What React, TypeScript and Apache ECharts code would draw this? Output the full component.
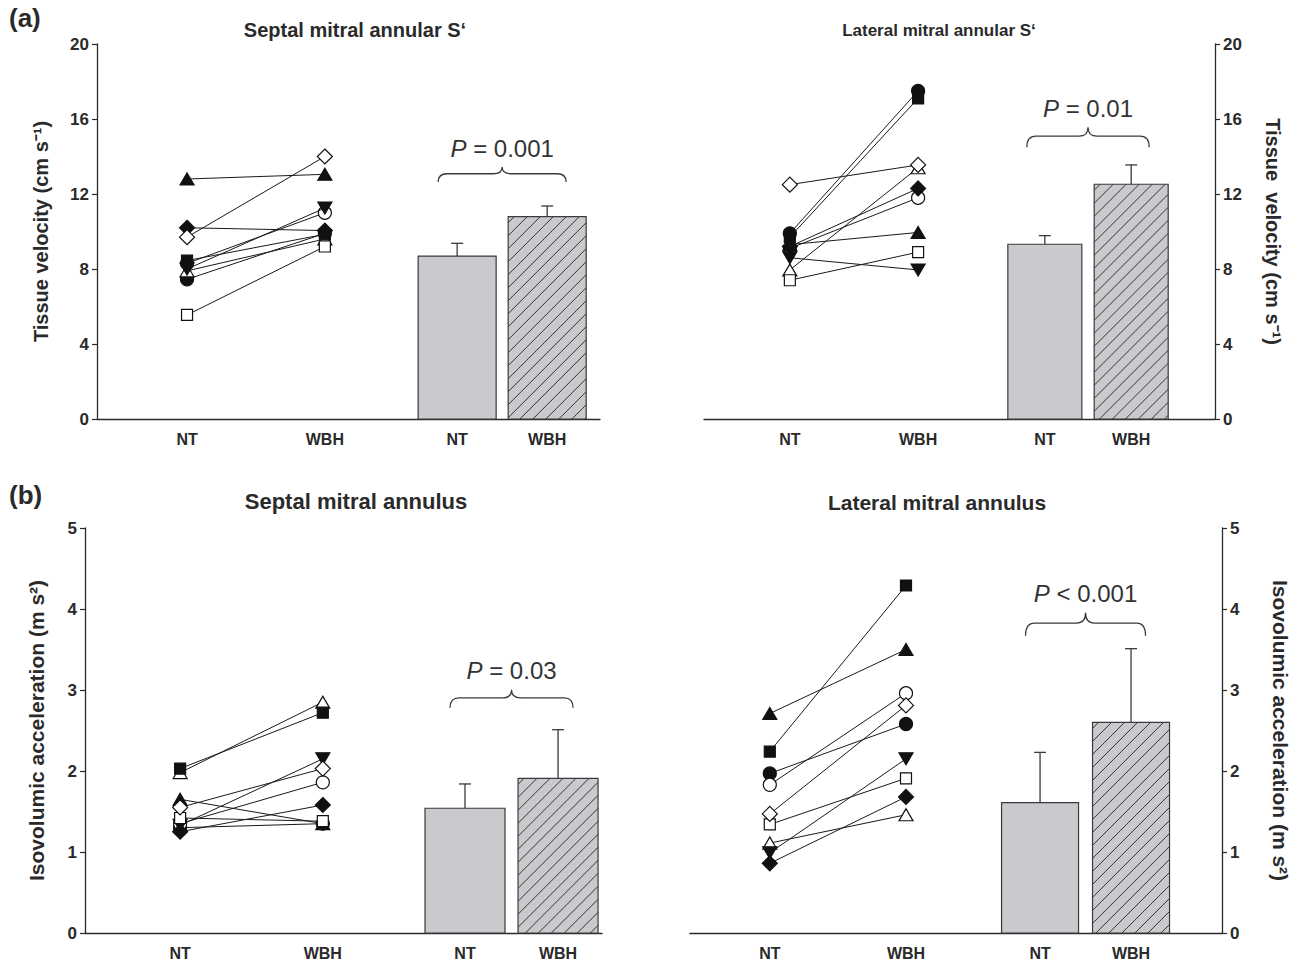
import React, { useEffect, useRef } from "react";
import * as echarts from "echarts";

// ---------- DATA ----------
const groupLabels = ["NT", "WBH", "NT", "WBH"];

// subjects (marker key per subject)
const subjects = ["S1", "S2", "S3", "S4", "S5", "S6", "S7", "S8", "S9"];

// (a) Septal mitral annular S' (cm/s)
const septalS_NT = [7.45, 8.3, 12.8, 7.9, 8.0, 8.45, 5.55, 10.2, 9.7];
const septalS_WBH = [9.9, 11.0, 13.05, 9.6, 11.25, 9.85, 9.2, 10.05, 14.0];
const septalS_mean = [8.69, 10.79];
const septalS_se = [0.68, 0.57];

// (a) Lateral mitral annular S' (cm/s)
const lateralS_NT = [9.9, 9.1, 9.3, 7.95, 8.6, 9.7, 7.4, 9.2, 12.5];
const lateralS_WBH = [17.5, 11.8, 9.95, 13.4, 7.95, 17.1, 8.9, 12.3, 13.55];
const lateralS_mean = [9.32, 12.52];
const lateralS_se = [0.46, 1.03];

// (b) Septal mitral annulus IVA (m/s2)
const septalIVA_NT = [1.3, 1.35, 1.65, 1.98, 1.33, 2.03, 1.42, 1.25, 1.55];
const septalIVA_WBH = [1.35, 1.86, 1.35, 2.85, 2.15, 2.72, 1.38, 1.58, 2.03];
const septalIVA_mean = [1.54, 1.91];
const septalIVA_se = [0.3, 0.6];

// (b) Lateral mitral annulus IVA (m/s2)
const lateralIVA_NT = [1.97, 1.83, 2.71, 1.11, 0.99, 2.24, 1.34, 0.86, 1.47];
const lateralIVA_WBH = [2.58, 2.96, 3.5, 1.46, 2.15, 4.29, 1.91, 1.68, 2.81];
const lateralIVA_mean = [1.61, 2.6];
const lateralIVA_se = [0.62, 0.91];

const pTexts = ["= 0.001", "= 0.01", "= 0.03", "< 0.001"];

const yTicksA = [0, 4, 8, 12, 16, 20];
const yTicksB = [0, 1, 2, 3, 4, 5];

// ---------- STYLE ----------
const FONT = "'Liberation Sans', Arial, Helvetica, sans-serif";
const INK = "#2a2a2a";
const BAR_FILL = "#c8cacd";

const markerStyles: { symbol: string; filled: boolean; rotate?: number; size: number | number[] }[] = [
  { symbol: "circle", filled: true, size: 13 },
  { symbol: "circle", filled: false, size: 13 },
  { symbol: "triangle", filled: true, size: [14, 12] },
  { symbol: "triangle", filled: false, size: [14, 12] },
  { symbol: "triangle", filled: true, rotate: 180, size: [14, 12] },
  { symbol: "rect", filled: true, size: 11 },
  { symbol: "rect", filled: false, size: 11 },
  { symbol: "diamond", filled: true, size: 15 },
  { symbol: "diamond", filled: false, size: 15 },
];

const panels = [
  {
    grid: { left: 97, top: 44, width: 503, height: 375 },
    side: "left",
    yMax: 20, yInterval: 4,
    xPos: [0.179, 0.453, 0.716, 0.895],
    barWidth: 78, braceInset: 20, braceY: 12.64, braceH: 15,
    nt: septalS_NT, wbh: septalS_WBH, mean: septalS_mean, se: septalS_se, p: pTexts[0],
    yName: "Tissue velocity (cm s\u207B\u00B9)", nameGap: 46, nameSize: 20,
  },
  {
    grid: { left: 704, top: 44, width: 511, height: 375 },
    side: "right",
    yMax: 20, yInterval: 4,
    xPos: [0.168, 0.419, 0.667, 0.836],
    barWidth: 74, braceInset: 19, braceY: 14.5, braceH: 20,
    nt: lateralS_NT, wbh: lateralS_WBH, mean: lateralS_mean, se: lateralS_se, p: pTexts[1],
    yName: "Tissue  velocity (cm s\u207B\u00B9)", nameGap: 48, nameSize: 20,
  },
  {
    grid: { left: 85, top: 528, width: 517, height: 405 },
    side: "left",
    yMax: 5, yInterval: 1,
    xPos: [0.184, 0.46, 0.735, 0.915],
    barWidth: 80, braceInset: 25, braceY: 2.78, braceH: 18,
    nt: septalIVA_NT, wbh: septalIVA_WBH, mean: septalIVA_mean, se: septalIVA_se, p: pTexts[2],
    yName: "Isovolumic acceleration (m s\u00B2)", nameGap: 38, nameSize: 21,
  },
  {
    grid: { left: 690, top: 528, width: 532, height: 405 },
    side: "right",
    yMax: 5, yInterval: 1,
    xPos: [0.15, 0.406, 0.658, 0.829],
    barWidth: 77, braceInset: 24, braceY: 3.67, braceH: 23,
    nt: lateralIVA_NT, wbh: lateralIVA_WBH, mean: lateralIVA_mean, se: lateralIVA_se, p: pTexts[3],
    yName: "Isovolumic acceleration (m s\u00B2)", nameGap: 48, nameSize: 21,
  },
];

function buildOption() {
  const grids: any[] = [];
  const xAxes: any[] = [];
  const yAxes: any[] = [];
  const series: any[] = [];

  panels.forEach((pn, i) => {
    grids.push({ ...pn.grid, containLabel: false });
    const ticks = pn.yMax === 20 ? yTicksA : yTicksB;
    xAxes.push({
      gridIndex: i,
      type: "value",
      min: 0,
      max: 1,
      axisLine: { show: true, onZero: false, lineStyle: { color: INK, width: 1.3 } },
      axisTick: { show: false },
      splitLine: { show: false },
      axisLabel: {
        customValues: pn.xPos,
        formatter: (v: number) => {
          const k = pn.xPos.findIndex((p) => Math.abs(p - v) < 1e-6);
          return k >= 0 ? groupLabels[k] : "";
        },
        fontFamily: FONT,
        fontWeight: "bold",
        fontSize: 16,
        color: INK,
        margin: 12,
      },
    });
    yAxes.push({
      gridIndex: i,
      type: "value",
      position: pn.side,
      min: 0,
      max: pn.yMax,
      interval: pn.yInterval,
      axisLine: { show: true, onZero: false, lineStyle: { color: INK, width: 1.3 } },
      axisTick: { show: true, inside: false, length: 5, lineStyle: { color: INK, width: 1.2 } },
      splitLine: { show: false },
      axisLabel: {
        fontFamily: FONT,
        fontWeight: "bold",
        fontSize: 17,
        color: INK,
        margin: 8,
        formatter: (v: number) => (ticks.includes(v) ? String(v) : ""),
      },
      name: pn.yName,
      nameLocation: "middle",
      nameGap: pn.nameGap,
      nameRotate: pn.side === "left" ? 90 : -90,
      nameTextStyle: { fontFamily: FONT, fontWeight: "bold", fontSize: pn.nameSize, color: INK },
    });

    // paired subject lines
    subjects.forEach((s, k) => {
      const m = markerStyles[k];
      series.push({
        type: "line",
        name: s + "-" + i,
        xAxisIndex: i,
        yAxisIndex: i,
        data: [
          [pn.xPos[0], pn.nt[k]],
          [pn.xPos[1], pn.wbh[k]],
        ],
        symbol: m.symbol,
        symbolSize: m.size,
        symbolRotate: m.rotate || 0,
        showSymbol: true,
        lineStyle: { color: "#1a1a1a", width: 1 },
        itemStyle: { color: m.filled ? "#111" : "#fff", borderColor: "#111", borderWidth: 1.2 },
        silent: true,
        z: 3 + k * 0.01,
      });
    });

    // bars with error bars
    series.push({
      type: "custom",
      xAxisIndex: i,
      yAxisIndex: i,
      silent: true,
      clip: false,
      z: 2,
      data: [
        [pn.xPos[2], pn.mean[0], pn.se[0], 0],
        [pn.xPos[3], pn.mean[1], pn.se[1], 1],
      ],
      encode: { x: 0, y: 1 },
      renderItem: (params: any, api: any) => {
        const x = api.value(0);
        const mean = api.value(1);
        const se = api.value(2);
        const hatch = api.value(3);
        const top = api.coord([x, mean]);
        const base = api.coord([x, 0]);
        const err = api.coord([x, mean + se]);
        const w = pn.barWidth;
        const x0 = top[0] - w / 2;
        const x1 = top[0] + w / 2;
        const yT = top[1];
        const yB = base[1];
        const children: any[] = [
          {
            type: "rect",
            shape: { x: x0, y: yT, width: w, height: yB - yT },
            style: { fill: BAR_FILL, stroke: "none" },
          },
        ];
        if (hatch) {
          const step = 13;
          for (let c = x0 + yT + 6; c < x1 + yB; c += step) {
            const xa = Math.max(x0, c - yB);
            const xb = Math.min(x1, c - yT);
            if (xb - xa < 0.5) continue;
            children.push({
              type: "line",
              shape: { x1: xa, y1: c - xa, x2: xb, y2: c - xb },
              style: { stroke: "#333", lineWidth: 1 },
            });
          }
        }
        children.push({
          type: "rect",
          shape: { x: x0, y: yT, width: w, height: yB - yT },
          style: { fill: "none", stroke: "#3a3a3a", lineWidth: 1.2 },
        });
        children.push({
          type: "line",
          shape: { x1: top[0], y1: yT, x2: top[0], y2: err[1] },
          style: { stroke: "#3a3a3a", lineWidth: 1.3 },
        });
        children.push({
          type: "line",
          shape: { x1: top[0] - 6, y1: err[1], x2: top[0] + 6, y2: err[1] },
          style: { stroke: "#3a3a3a", lineWidth: 1.3 },
        });
        return { type: "group", children };
      },
    });

    // brace + P value
    series.push({
      type: "custom",
      xAxisIndex: i,
      yAxisIndex: i,
      silent: true,
      clip: false,
      z: 4,
      data: [[(pn.xPos[2] + pn.xPos[3]) / 2, pn.braceY]],
      encode: { x: 0, y: 1 },
      renderItem: (params: any, api: any) => {
        const mid = api.coord([api.value(0), api.value(1)]);
        const l = api.coord([pn.xPos[2], 0])[0] - pn.barWidth / 2 + pn.braceInset;
        const r = api.coord([pn.xPos[3], 0])[0] + pn.barWidth / 2 - pn.braceInset;
        const xm = (l + r) / 2;
        const yE = mid[1];
        const yTop = yE - pn.braceH;
        const yMid = yE - pn.braceH * 0.55;
        const rr = 9;
        const d =
          `M${l},${yE} Q${l},${yMid} ${l + rr},${yMid} L${xm - rr},${yMid} ` +
          `Q${xm},${yMid} ${xm},${yTop} Q${xm},${yMid} ${xm + rr},${yMid} ` +
          `L${r - rr},${yMid} Q${r},${yMid} ${r},${yE}`;
        return {
          type: "group",
          children: [
            {
              type: "path",
              shape: { pathData: d },
              style: { fill: "none", stroke: "#3a3a3a", lineWidth: 1.3 },
            },
            {
              type: "text",
              x: xm,
              y: yTop - 19,
              style: {
                text: "{i|P} " + pn.p,
                fontFamily: FONT,
                fontSize: 24,
                fill: "#333",
                align: "center",
                verticalAlign: "middle",
                rich: { i: { fontStyle: "italic", fontFamily: FONT, fontSize: 24, fill: "#333" } },
              },
            },
          ],
        };
      },
    });
  });

  const titleStyle = { fontFamily: FONT, fontWeight: "bold", fill: INK, align: "center", verticalAlign: "middle" };
  const graphic = [
    { type: "text", left: 9, top: 5, style: { text: "(a)", fontFamily: FONT, fontWeight: "bold", fontSize: 26, fill: INK } },
    { type: "text", left: 9, top: 482, style: { text: "(b)", fontFamily: FONT, fontWeight: "bold", fontSize: 26, fill: INK } },
    { type: "text", x: 355, y: 30, style: { ...titleStyle, fontSize: 20, text: "Septal mitral annular S\u2018" } },
    { type: "text", x: 939, y: 30, style: { ...titleStyle, fontSize: 17, text: "Lateral mitral annular S\u2018" } },
    { type: "text", x: 356, y: 501, style: { ...titleStyle, fontSize: 22, text: "Septal mitral annulus" } },
    { type: "text", x: 937, y: 502, style: { ...titleStyle, fontSize: 21, text: "Lateral mitral annulus" } },
  ];

  return {
    animation: false,
    backgroundColor: "#ffffff",
    grid: grids,
    xAxis: xAxes,
    yAxis: yAxes,
    series,
    graphic,
  };
}

export default function App() {
  const ref = useRef<HTMLDivElement>(null);
  useEffect(() => {
    document.body.style.margin = "0";
    if (!ref.current) return;
    const chart = echarts.init(ref.current, undefined, { renderer: "svg" });
    chart.setOption(buildOption() as any);
    return () => chart.dispose();
  }, []);
  return <div ref={ref} style={{ width: 1297, height: 965 }} />;
}
